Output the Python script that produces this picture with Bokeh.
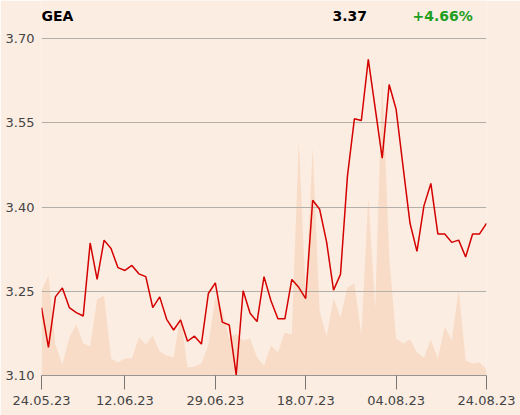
from bokeh.plotting import figure
from bokeh.models import Range1d, Label, NumeralTickFormatter
from bokeh.embed import file_html
from bokeh.resources import INLINE

# ---- data ----
symbol = "GEA"
last_price = "3.37"
change_pct = "+4.66%"

price = [3.221, 3.150, 3.240, 3.256, 3.221, 3.212, 3.206, 3.336, 3.271, 3.341,
         3.326, 3.292, 3.287, 3.296, 3.281, 3.276, 3.221,
         3.240, 3.200, 3.181, 3.199, 3.161, 3.170, 3.156, 3.246, 3.265,
         3.195, 3.190, 3.101, 3.251, 3.211, 3.196, 3.276,
         3.233, 3.201, 3.201, 3.271, 3.257, 3.237, 3.412, 3.396, 3.338,
         3.252, 3.280, 3.455, 3.557, 3.554, 3.663, 3.575, 3.487,
         3.618, 3.574, 3.472, 3.371, 3.321, 3.402, 3.442, 3.352, 3.352,
         3.337, 3.341, 3.311, 3.352, 3.352, 3.371]

volume = [85, 100, 31, 11, 38, 51, 32, 29, 76, 80,
          17, 13, 17, 17, 38, 31, 40,
          24, 20, 18, 61, 8, 9, 12, 31, 78,
          65, 37, 42, 35, 37, 18, 10,
          30, 23, 43, 41, 235, 80, 228, 65, 39,
          77, 58, 88, 92, 40, 178, 67, 298,
          120, 37, 32, 36, 23, 18, 36, 17, 49,
          35, 86, 15, 12, 13, 6]

tick_idx = [0, 12, 25, 38, 51, 64]
tick_labels = ["24.05.23", "12.06.23", "29.06.23", "18.07.23", "04.08.23", "24.08.23"]
y_ticks = [3.10, 3.25, 3.40, 3.55, 3.70]

# ---- layout / styling ----
BG = "#fbede2"
VOL = "#f8dcc7"
RED = "#d40000"
GREEN = "#1f9e1f"
GRID = "#b5afaa"
FONT = "DejaVu Sans"
FRAME_H = 375          # plot frame height in px (top of canvas to baseline)
GRID_SPAN = 337        # px between lowest and highest grid line
y_top = y_ticks[0] + (y_ticks[-1] - y_ticks[0]) * FRAME_H / GRID_SPAN

x = list(range(len(price)))

p = figure(width=520, height=415, output_backend="svg", toolbar_location=None,
           title=None,
           x_range=Range1d(0, len(price) - 1), y_range=Range1d(y_ticks[0], y_top),
           min_border_left=41, min_border_right=34, min_border_top=0, min_border_bottom=40,
           background_fill_color=BG, border_fill_color=BG, outline_line_color=None)

p.extra_y_ranges = {"vol": Range1d(0, FRAME_H)}
p.varea(x=x, y1=0, y2=volume, y_range_name="vol", fill_color=VOL, level="image")
p.line(x, price, line_color=RED, line_width=1.5)

# axes
p.xaxis.ticker = tick_idx
p.xaxis.major_label_overrides = dict(zip(tick_idx, tick_labels))
p.xaxis.axis_line_color = "#9a9591"
p.xaxis.major_tick_line_color = "#7a7571"
p.xaxis.major_tick_out = 14
p.xaxis.major_tick_in = 0
p.xaxis.minor_tick_line_color = None
p.xaxis.major_label_standoff = 6
p.xaxis.major_label_text_font = FONT
p.xaxis.major_label_text_font_size = "13px"
p.xaxis.major_label_text_color = "#444444"

p.yaxis.ticker = y_ticks
p.yaxis.formatter = NumeralTickFormatter(format="0.00")
p.yaxis.axis_line_color = None
p.yaxis.major_tick_line_color = None
p.yaxis.major_tick_out = 0
p.yaxis.major_tick_in = 0
p.yaxis.minor_tick_line_color = None
p.yaxis.minor_tick_out = 0
p.yaxis.major_label_standoff = 7
p.yaxis.major_label_text_font = FONT
p.yaxis.major_label_text_font_size = "13px"
p.yaxis.major_label_text_color = "#444444"

p.xgrid.visible = False
p.ygrid.ticker = y_ticks
p.ygrid.grid_line_color = GRID
p.ygrid.grid_line_width = 1

# header
for txt, xx, col in [(symbol, 0, "#000000"), (last_price, 291, "#000000"), (change_pct, 371, GREEN)]:
    p.add_layout(Label(x=xx, y=FRAME_H - 15, x_units="screen", y_units="screen", text=txt,
                       text_font=FONT, text_font_style="bold", text_font_size="14px",
                       text_color=col, text_baseline="alphabetic"))

html = file_html(p, INLINE)
html = html.replace("<body>", '<body style="margin:0;background:%s;">' % BG, 1)
open("out.html", "w").write(html)
